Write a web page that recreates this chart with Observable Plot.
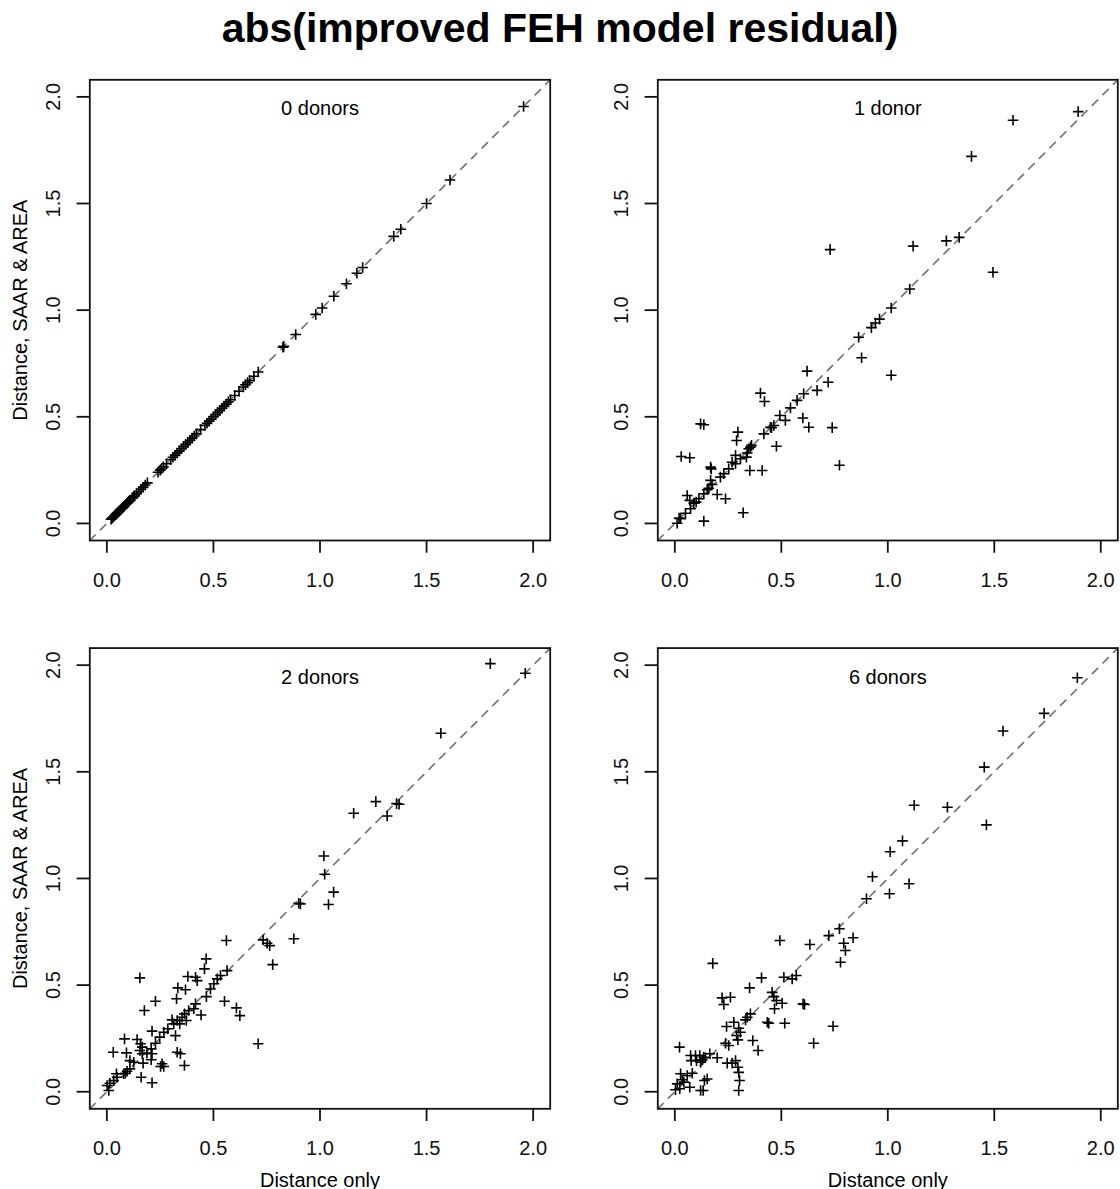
<!DOCTYPE html>
<html><head><meta charset="utf-8">
<script src="https://cdn.jsdelivr.net/npm/d3@7"></script>
<script src="https://cdn.jsdelivr.net/npm/@observablehq/plot@0.6"></script>
<style>
html,body{margin:0;padding:0;background:#fff;overflow:hidden;}
#root{position:relative;width:1120px;height:1189px;font-family:"Liberation Sans",Arial,Helvetica,sans-serif;}
#title{position:absolute;left:0;top:8px;width:1120px;text-align:center;font-weight:bold;font-size:41px;line-height:41px;color:#000;}
</style></head><body>
<div id="root"><div id="title">abs(improved FEH model residual)</div></div>
<script>
// ---- data: [Distance only, Distance SAAR & AREA] ----
const donors0 = [[0.020,0.020],[0.025,0.025],[0.030,0.030],[0.035,0.035],[0.040,0.040],[0.045,0.045],[0.050,0.050],[0.055,0.055],[0.060,0.060],[0.065,0.065],[0.070,0.070],[0.075,0.075],[0.080,0.080],[0.090,0.090],[0.095,0.095],[0.100,0.100],[0.105,0.105],[0.110,0.110],[0.120,0.120],[0.125,0.125],[0.130,0.130],[0.140,0.140],[0.150,0.150],[0.160,0.160],[0.170,0.170],[0.180,0.180],[0.190,0.190],[0.240,0.240],[0.250,0.250],[0.255,0.255],[0.265,0.265],[0.280,0.280],[0.300,0.300],[0.310,0.310],[0.320,0.320],[0.330,0.330],[0.340,0.340],[0.350,0.350],[0.360,0.360],[0.370,0.370],[0.380,0.380],[0.390,0.390],[0.400,0.400],[0.410,0.410],[0.420,0.420],[0.440,0.440],[0.460,0.460],[0.470,0.470],[0.480,0.480],[0.490,0.490],[0.500,0.500],[0.510,0.510],[0.520,0.520],[0.530,0.530],[0.540,0.540],[0.550,0.550],[0.560,0.560],[0.570,0.570],[0.580,0.580],[0.600,0.600],[0.620,0.620],[0.640,0.640],[0.650,0.650],[0.660,0.660],[0.670,0.670],[0.690,0.690],[0.710,0.710],[0.826,0.826],[0.830,0.830],[0.886,0.886],[0.980,0.980],[1.010,1.010],[1.065,1.065],[1.124,1.124],[1.173,1.173],[1.200,1.200],[1.346,1.346],[1.379,1.379],[1.500,1.500],[1.610,1.610],[1.955,1.955]];

const donors1 = [[1.894,1.931],[1.588,1.890],[1.393,1.721],[0.729,1.284],[1.119,1.300],[1.275,1.325],[1.335,1.341],[1.494,1.178],[1.103,1.099],[1.016,1.010],[0.961,0.958],[0.942,0.940],[0.923,0.918],[0.863,0.873],[0.877,0.777],[1.016,0.695],[0.621,0.714],[0.720,0.662],[0.668,0.624],[0.605,0.608],[0.574,0.577],[0.543,0.542],[0.493,0.506],[0.519,0.483],[0.601,0.494],[0.629,0.451],[0.739,0.449],[0.465,0.459],[0.454,0.449],[0.418,0.420],[0.402,0.611],[0.421,0.572],[0.477,0.362],[0.773,0.273],[0.410,0.248],[0.352,0.248],[0.360,0.366],[0.347,0.350],[0.340,0.330],[0.336,0.311],[0.296,0.428],[0.290,0.389],[0.285,0.319],[0.308,0.303],[0.269,0.287],[0.121,0.467],[0.136,0.463],[0.030,0.314],[0.070,0.308],[0.168,0.264],[0.171,0.256],[0.168,0.202],[0.199,0.136],[0.238,0.116],[0.321,0.050],[0.136,0.011],[0.058,0.131],[0.070,0.108],[0.011,0.001],[0.027,0.022],[0.050,0.048],[0.074,0.069],[0.089,0.095],[0.113,0.116],[0.136,0.139],[0.152,0.158],[0.175,0.183],[0.214,0.217],[0.230,0.233],[0.253,0.256],[0.285,0.280],[0.355,0.358],[0.449,0.451],[0.020,0.025],[0.100,0.100],[0.160,0.165]];

const donors2 = [[1.799,2.007],[1.963,1.962],[1.567,1.681],[1.262,1.360],[1.359,1.351],[1.371,1.348],[1.158,1.306],[1.315,1.293],[1.018,1.105],[1.022,1.020],[1.064,0.936],[1.040,0.878],[0.900,0.884],[0.908,0.881],[0.877,0.717],[0.733,0.712],[0.752,0.696],[0.764,0.685],[0.778,0.596],[0.710,0.225],[0.561,0.709],[0.466,0.623],[0.458,0.576],[0.564,0.568],[0.533,0.545],[0.518,0.529],[0.502,0.506],[0.486,0.482],[0.467,0.446],[0.552,0.424],[0.608,0.393],[0.624,0.357],[0.442,0.360],[0.380,0.540],[0.416,0.537],[0.424,0.521],[0.333,0.487],[0.369,0.478],[0.327,0.436],[0.416,0.412],[0.408,0.389],[0.384,0.381],[0.364,0.365],[0.373,0.334],[0.353,0.349],[0.330,0.334],[0.314,0.318],[0.306,0.337],[0.342,0.318],[0.286,0.295],[0.267,0.279],[0.322,0.263],[0.248,0.256],[0.228,0.227],[0.330,0.185],[0.345,0.178],[0.364,0.123],[0.259,0.131],[0.252,0.118],[0.267,0.118],[0.212,0.284],[0.176,0.381],[0.228,0.424],[0.155,0.534],[0.083,0.248],[0.142,0.245],[0.158,0.225],[0.166,0.209],[0.155,0.193],[0.166,0.178],[0.208,0.201],[0.212,0.178],[0.208,0.150],[0.030,0.185],[0.092,0.182],[0.108,0.146],[0.170,0.134],[0.161,0.068],[0.212,0.042],[0.087,0.087],[0.095,0.096],[0.079,0.084],[0.048,0.068],[0.032,0.052],[0.014,0.040],[0.001,0.029],[0.009,0.006],[0.108,0.107],[0.126,0.138],[0.045,0.084],[0.188,0.181]];

const donors6 = [[1.890,1.941],[1.734,1.774],[1.541,1.691],[1.453,1.522],[1.463,1.251],[1.124,1.343],[1.280,1.334],[1.069,1.176],[1.011,1.125],[1.100,0.975],[0.928,1.008],[1.008,0.928],[0.900,0.905],[0.773,0.764],[0.723,0.732],[0.837,0.722],[0.793,0.696],[0.801,0.662],[0.778,0.607],[0.634,0.690],[0.493,0.709],[0.178,0.602],[0.407,0.534],[0.512,0.537],[0.551,0.529],[0.570,0.545],[0.351,0.487],[0.222,0.440],[0.261,0.443],[0.230,0.409],[0.457,0.466],[0.465,0.446],[0.477,0.428],[0.468,0.389],[0.504,0.415],[0.602,0.412],[0.609,0.409],[0.743,0.307],[0.652,0.227],[0.516,0.321],[0.434,0.326],[0.441,0.321],[0.355,0.365],[0.340,0.349],[0.332,0.337],[0.277,0.326],[0.243,0.306],[0.300,0.298],[0.308,0.279],[0.290,0.264],[0.296,0.243],[0.366,0.240],[0.391,0.193],[0.238,0.227],[0.253,0.217],[0.246,0.134],[0.269,0.134],[0.285,0.146],[0.296,0.115],[0.300,0.091],[0.304,0.053],[0.300,0.006],[0.199,0.159],[0.164,0.178],[0.144,0.159],[0.022,0.209],[0.074,0.170],[0.097,0.170],[0.117,0.170],[0.136,0.162],[0.077,0.146],[0.102,0.146],[0.121,0.138],[0.129,0.150],[0.152,0.060],[0.139,0.053],[0.133,0.006],[0.082,0.087],[0.058,0.076],[0.027,0.084],[0.035,0.056],[0.011,0.037],[0.042,0.045],[0.070,0.021],[0.023,0.014],[0.121,0.006],[0.003,0.009]];

const panelLabels = ["0 donors", "1 donor", "2 donors", "6 donors"];
const tickValues = [0, 0.5, 1, 1.5, 2];
const tickLabels = ["0.0", "0.5", "1.0", "1.5", "2.0"];
const axisLimits = [0, 2];
const xTitle = "Distance only";
const yTitle = "Distance, SAAR & AREA";

// ---- drawing ----
const ext = 0.04 * (axisLimits[1] - axisLimits[0]);   // R's default 4% axis extension
const domain = [axisLimits[0] - ext, axisLimits[1] + ext];
const plusSymbol = {draw(context, size) {
  const r = Math.sqrt(size / Math.PI);
  context.moveTo(-r, 0); context.lineTo(r, 0);
  context.moveTo(0, -r); context.lineTo(0, r);
}};
const fmt = d => tickLabels[tickValues.indexOf(d)];
const ink = "#111";

function panel(pairs, label, o) {
  const data = pairs.map(([x, y]) => ({x, y}));
  const marks = [
    Plot.line(domain, {x: d => d, y: d => d, stroke: "#777", strokeWidth: 1.7, strokeDasharray: "7.5,7.5"}),
    Plot.dot(data, {x: "x", y: "y", symbol: plusSymbol, r: 5.3, stroke: "#000", fill: "none", strokeWidth: 1.6}),
    Plot.frame({stroke: ink, strokeWidth: 1.8}),
    Plot.axisX({ticks: tickValues, tickFormat: fmt, tickSize: 12.7, tickPadding: 19.3, fontSize: 20, label: null, color: ink, strokeWidth: 1.8}),
    Plot.axisY({ticks: tickValues, tickFormat: fmt, tickSize: 12.7, tickPadding: 23.8, tickRotate: -90, textAnchor: "middle", lineAnchor: "middle", fontSize: 20, label: null, color: ink, strokeWidth: 1.8}),
    Plot.text([label], {text: d => d, frameAnchor: "top", dy: 29, lineAnchor: "middle", fontSize: 20, fill: "#000"})
  ];
  if (o.yTitle) marks.push(Plot.text([yTitle], {text: d => d, frameAnchor: "left", rotate: -90, dx: -(o.ml - 20.4), textAnchor: "middle", lineAnchor: "middle", fontSize: 20, fill: "#000"}));
  if (o.xTitle) marks.push(Plot.text([xTitle], {text: d => d, frameAnchor: "bottom", dy: 71.7, textAnchor: "middle", lineAnchor: "middle", fontSize: 20, fill: "#000"}));
  const svg = Plot.plot({
    width: 560, height: 570,
    marginLeft: o.ml, marginRight: o.mr, marginTop: o.mt, marginBottom: o.mb,
    x: {domain, label: null}, y: {domain, label: null},
    style: {fontFamily: '"Liberation Sans", Arial, Helvetica, sans-serif', background: "transparent", overflow: "visible"},
    marks
  });
  svg.style.position = "absolute";
  svg.style.left = o.left + "px";
  svg.style.top = o.top + "px";
  document.getElementById("root").appendChild(svg);
}

panel(donors0, panelLabels[0], {left: 0,   top: 49,  ml: 89.3, mr: 10.3, mt: 30.3, mb: 79,   yTitle: true});
panel(donors1, panelLabels[1], {left: 560, top: 49,  ml: 97.3, mr: 2.7,  mt: 30.3, mb: 79});
panel(donors2, panelLabels[2], {left: 0,   top: 619, ml: 89.3, mr: 10.3, mt: 28.6, mb: 80.7, yTitle: true, xTitle: true});
panel(donors6, panelLabels[3], {left: 560, top: 619, ml: 97.3, mr: 2.7,  mt: 28.6, mb: 80.7, xTitle: true});
</script>
</body></html>
